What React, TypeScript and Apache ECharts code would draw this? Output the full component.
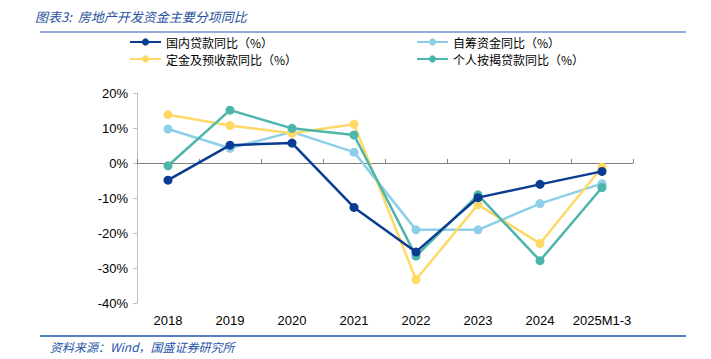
import React, { useEffect, useRef } from "react";
import * as echarts from "echarts";

const categories = ["2018", "2019", "2020", "2021", "2022", "2023", "2024", "2025M1-3"];
const domesticLoans = [-4.9, 5.1, 5.7, -12.7, -25.4, -9.9, -6.1, -2.4];
const selfRaised = [9.7, 4.2, 8.9, 3.1, -19.1, -19.1, -11.6, -5.9];
const deposits = [13.8, 10.7, 8.5, 11.1, -33.3, -11.9, -23.0, -1.2];
const mortgages = [-0.8, 15.1, 9.9, 8.0, -26.6, -9.1, -27.9, -7.0];

const names = ["国内贷款同比（%）", "自筹资金同比（%）", "定金及预收款同比（%）", "个人按揭贷款同比（%）"];
const colors = ["#0A3D91", "#8DCFE8", "#FFD966", "#4DB5AA"];
const seriesData = [domesticLoans, selfRaised, deposits, mortgages];

export default function App() {
  const ref = useRef<HTMLDivElement>(null);
  useEffect(() => {
    if (!ref.current) return;
    const chart = echarts.init(ref.current, null, { renderer: "svg" });
    const cjk = "'Noto Sans CJK SC', sans-serif";
    const legendPos = [
      { left: 129, top: 36 },
      { left: 416, top: 36 },
      { left: 129, top: 53 },
      { left: 416, top: 53 },
    ];
    chart.setOption({
      animation: false,
      backgroundColor: "#ffffff",
      legend: names.map((n, i) => ({
        data: [n],
        left: legendPos[i].left,
        top: legendPos[i].top,
        padding: 0,
        itemWidth: 31,
        itemHeight: 9,
        itemGap: 6,
        textStyle: { fontSize: 12, color: "#000", fontFamily: cjk },
      })),
      grid: { left: 137, right: 78, top: 93, bottom: 56, containLabel: false },
      xAxis: [
        {
          type: "category",
          data: categories,
          boundaryGap: true,
          axisLine: { show: true, onZero: true, lineStyle: { color: "#808080", width: 1 } },
          axisTick: { show: true, inside: true, length: 4, interval: 0, lineStyle: { color: "#808080" } },
          axisLabel: { show: false },
          splitLine: { show: false },
        },
        {
          type: "category",
          data: categories,
          position: "bottom",
          boundaryGap: true,
          axisLine: { show: false, onZero: false },
          axisTick: { show: false },
          axisLabel: { show: true, fontSize: 13, color: "#000", margin: 11, interval: 0, fontFamily: "'Liberation Sans', Arial, sans-serif" },
          splitLine: { show: false },
        },
      ],
      yAxis: {
        type: "value",
        min: -40,
        max: 20,
        interval: 10,
        axisLine: { show: true, lineStyle: { color: "#BFBFBF", width: 1 } },
        axisTick: { show: true, inside: false, length: 4, lineStyle: { color: "#BFBFBF" } },
        splitLine: { show: false },
        axisLabel: {
          formatter: "{value}%",
          fontSize: 13,
          color: "#000",
          margin: 9,
          fontFamily: "'Liberation Sans', Arial, sans-serif",
        },
      },
      series: names.map((n, i) => ({
        name: n,
        type: "line",
        xAxisIndex: 0,
        data: seriesData[i],
        symbol: "circle",
        symbolSize: 9,
        lineStyle: { width: 2.5, color: colors[i] },
        itemStyle: { color: colors[i] },
        z: [4, 1, 2, 3][i],
      })),
      graphic: [
        {
          type: "text",
          left: 35,
          top: 10,
          style: {
            text: "图表3:  房地产开发资金主要分项同比",
            fontSize: 13,
            fontStyle: "italic",
            fill: "#2A52A0",
            fontFamily: cjk,
          },
        },
        {
          type: "line",
          shape: { x1: 40, y1: 32, x2: 686, y2: 32 },
          style: { stroke: "#6F8FCF", lineWidth: 1.5 },
        },
        {
          type: "line",
          shape: { x1: 40, y1: 336, x2: 686, y2: 336 },
          style: { stroke: "#1F55A8", lineWidth: 1.5 },
        },
        {
          type: "text",
          left: 50,
          top: 340,
          style: {
            text: "资料来源：Wind，国盛证券研究所",
            fontSize: 12,
            fontStyle: "italic",
            fill: "#1F55A8",
            fontFamily: cjk,
          },
        },
      ],
    });
    return () => chart.dispose();
  }, []);
  return (
    <div
      ref={ref}
      style={{ position: "fixed", left: 0, top: 0, width: 711, height: 359 }}
    />
  );
}
